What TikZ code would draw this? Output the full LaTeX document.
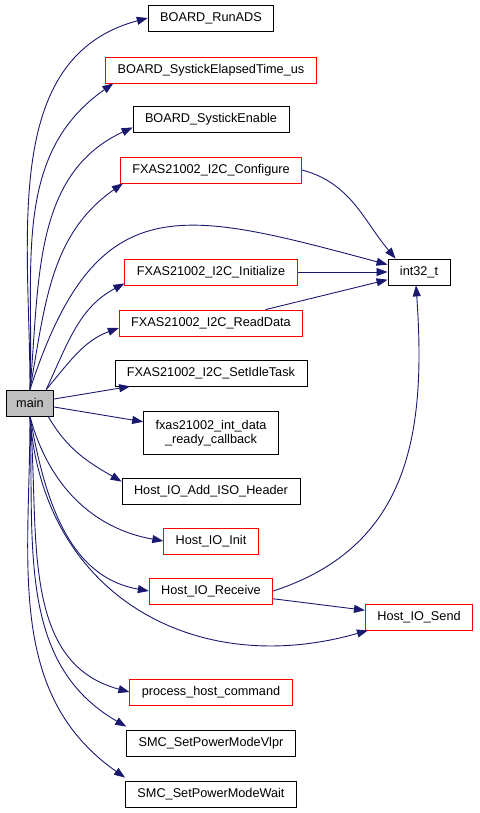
\documentclass[tikz,border=0pt]{standalone}
\usepackage{fontspec}
\setmainfont{Liberation Sans}
\usepackage{xcolor}
\usetikzlibrary{arrows.meta,positioning,calc}

\definecolor{edgeblue}{RGB}{25,25,112}

\begin{document}
\begin{tikzpicture}[
    x=1pt, y=1pt,
    fn/.style={rectangle, draw=black, thick, fill=white, minimum height=26pt, inner xsep=12pt, align=center, font=\fontsize{12.7}{14.5}\selectfont},
    fnred/.style={fn, draw=red},
    mainbox/.style={fn, fill=black!25, inner xsep=10pt},
    arrow/.style={-{Triangle[length=11pt,width=8pt]}, draw=edgeblue, line width=0.9pt}
]
\useasboundingbox (0,0) rectangle (479,-813);

% Caller
\node[mainbox] (main) at (30,-403) {main};

% Callees
\node[fn] (runads) at (211,-18) {BOARD\_RunADS};
\node[fnred] (elapsed) at (211,-70) {BOARD\_SystickElapsedTime\_us};
\node[fn] (enable) at (211,-119) {BOARD\_SystickEnable};
\node[fnred] (configure) at (211,-170) {FXAS21002\_I2C\_Configure};
\node[fnred] (initialize) at (211,-272) {FXAS21002\_I2C\_Initialize};
\node[fnred] (readdata) at (211,-323) {FXAS21002\_I2C\_ReadData};
\node[fn] (setidle) at (211,-373) {FXAS21002\_I2C\_SetIdleTask};
\node[fn, minimum height=43pt] (callback) at (211,-433) {fxas21002\_int\_data\\\_ready\_callback};
\node[fn] (addiso) at (211,-491) {Host\_IO\_Add\_ISO\_Header};
\node[fnred] (init) at (211,-541) {Host\_IO\_Init};
\node[fnred] (receive) at (211,-591) {Host\_IO\_Receive};
\node[fnred] (process) at (211,-692) {process\_host\_command};
\node[fn] (vlpr) at (211,-743) {SMC\_SetPowerModeVlpr};
\node[fn] (wait) at (211,-794) {SMC\_SetPowerModeWait};

% Second level
\node[fn] (int32) at (419,-272) {int32\_t};
\node[fnred] (send) at (419,-617) {Host\_IO\_Send};

% Calls from main (upwards)
\draw[arrow] (main.north) to[out=90,in=195] (runads.west);
\draw[arrow] (main.north) to[out=88,in=215] ([xshift=8pt]elapsed.south west);
\draw[arrow] (main.north) to[out=85,in=205] ([yshift=5pt]enable.south west);
\draw[arrow] (main.north) to[out=80,in=215] ([xshift=3pt]configure.south west);
\draw[arrow] (main.north) to[out=72,in=165,looseness=1.45] ([yshift=-6pt]int32.north west);
\draw[arrow] ([xshift=-8pt]main.north east) to[out=65,in=208] ([yshift=2pt]initialize.south west);
\draw[arrow] ([xshift=-8pt]main.north east) to[out=50,in=200] ([yshift=-5pt]readdata.west);

% Calls from main (sideways)
\draw[arrow] (main) -- (setidle);
\draw[arrow] (main) -- (callback);

% Calls from main (downwards)
\draw[arrow] ([xshift=-6pt]main.south east) to[out=-60,in=150] ([yshift=-4pt]addiso.north west);
\draw[arrow] (main.south) to[out=-75,in=170] (init.west);
\draw[arrow] (main.south) to[out=-80,in=170] (receive.west);
\draw[arrow] (main.south) to[out=-86,in=196,looseness=1.15] ([xshift=3pt]send.south west);
\draw[arrow] (main.south) to[out=-85,in=165] (process.west);
\draw[arrow] (main.south) to[out=-88,in=150] ([yshift=3pt]vlpr.north west);
\draw[arrow] (main.south) to[out=-90,in=145] ([yshift=3pt]wait.north west);

% Second level calls
\draw[arrow] (configure.east) to[out=-15,in=130] ([xshift=8pt]int32.north west);
\draw[arrow] (initialize) -- (int32);
\draw[arrow] (readdata) -- (int32);
\draw[arrow] (receive.east) to[out=18,in=-86,looseness=1.1] ([xshift=-3pt]int32.south);
\draw[arrow] (receive) -- (send);

\end{tikzpicture}
\end{document}
